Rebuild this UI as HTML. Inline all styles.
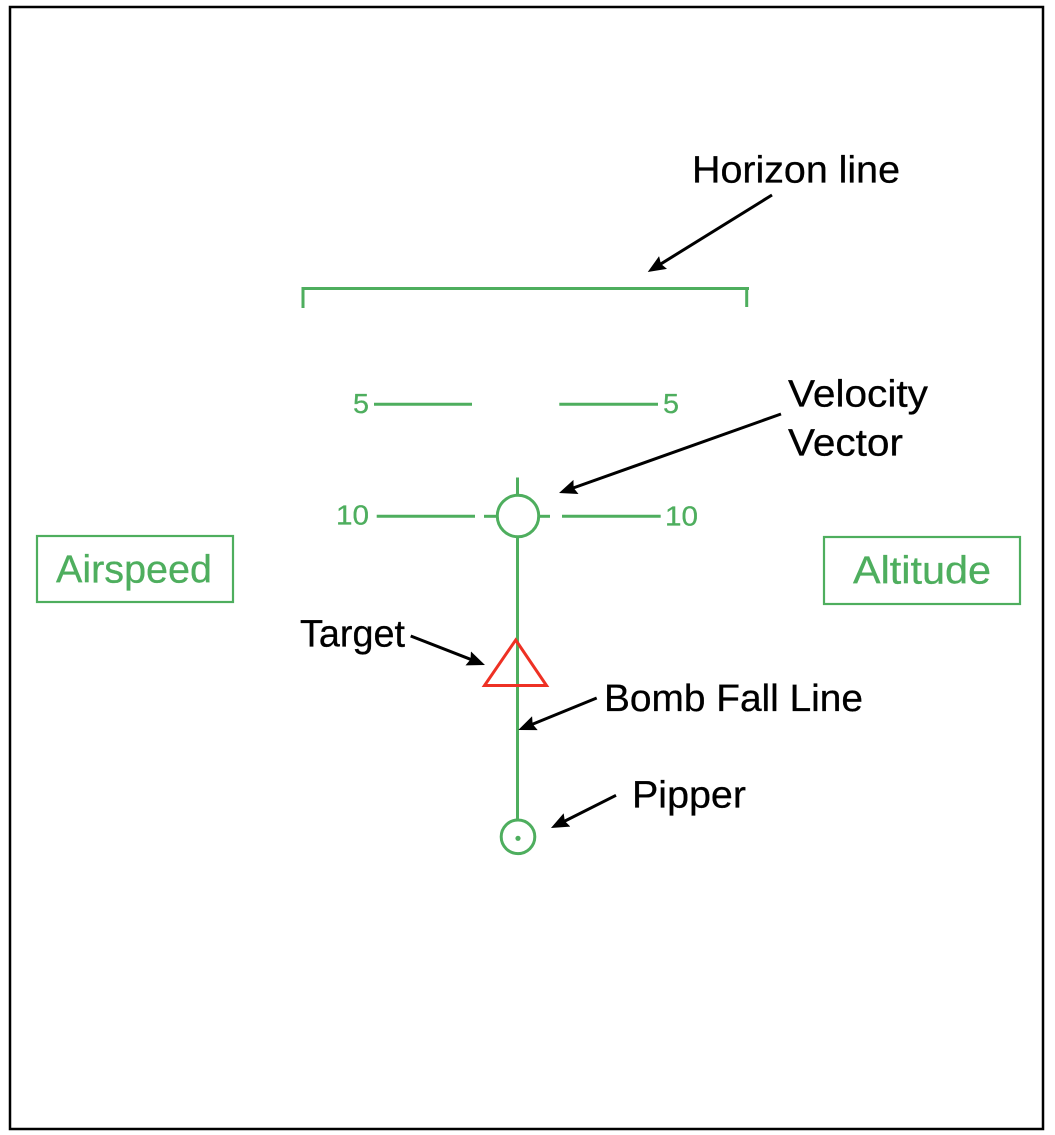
<!DOCTYPE html>
<html>
<head>
<meta charset="utf-8">
<style>
html,body{margin:0;padding:0;background:#fff;}
svg{display:block;}
text{font-family:"Liberation Sans",sans-serif;}
</style>
</head>
<body>
<svg width="1055" height="1135" viewBox="0 0 1055 1135" xmlns="http://www.w3.org/2000/svg">
<defs>
<marker id="a" markerUnits="userSpaceOnUse" markerWidth="19" markerHeight="16" refX="9" refY="7.500" orient="auto">
<path d="M0 0 L18 7.500 L0 15 L2.500 7.500 Z" fill="#000"/>
</marker>
</defs>
<rect width="1055" height="1135" fill="#fff"/>
<rect x="10" y="7" width="1033" height="1122" fill="#fff" stroke="#000" stroke-width="2.500"/>
<g fill="none" stroke="#4EAE5E" stroke-width="3">
<path d="M301.500 288.500 H749"/>
<path d="M303 288.500 V308"/>
<path d="M746.700 288.500 V307"/>
<path d="M374 404.300 H472"/>
<path d="M559.300 404.300 H658"/>
<path d="M376.700 516.300 H475"/>
<path d="M562 516.300 H660.700"/>
<path d="M484 516.300 H497"/>
<path d="M539 516.300 H550"/>
<path d="M517.500 477.500 V495"/>
<path d="M517.500 537 V820"/>
<circle cx="518" cy="516" r="20.700"/>
<circle cx="518" cy="836.800" r="16.800"/>
<rect x="37" y="536" width="196" height="66" stroke-width="2.200"/>
<rect x="824" y="537" width="196" height="67" stroke-width="2.200"/>
</g>
<circle cx="518" cy="838.300" r="2.600" fill="#4EAE5E"/>
<path d="M515.700 640 L546.500 685.500 H484.500 Z" fill="none" stroke="#EE3124" stroke-width="3"/>
<g fill="#4EAE5E" stroke="#4EAE5E" stroke-width="0.300" font-size="28">
<text x="353" y="413" textLength="16" lengthAdjust="spacingAndGlyphs">5</text>
<text x="663" y="413" textLength="16" lengthAdjust="spacingAndGlyphs">5</text>
<text x="336" y="524.500" textLength="33" lengthAdjust="spacingAndGlyphs">10</text>
<text x="665" y="525.500" textLength="33" lengthAdjust="spacingAndGlyphs">10</text>
</g>
<g fill="#4EAE5E" stroke="#4EAE5E" stroke-width="0.300" font-size="39">
<text x="56" y="582.500" textLength="156" lengthAdjust="spacingAndGlyphs">Airspeed</text>
<text x="853" y="583.500" textLength="138" lengthAdjust="spacingAndGlyphs">Altitude</text>
</g>
<g fill="#000" stroke="#000" stroke-width="0.300" font-size="38">
<text x="692" y="182.500" textLength="208" lengthAdjust="spacingAndGlyphs">Horizon line</text>
<text x="788" y="406.500" textLength="140" lengthAdjust="spacingAndGlyphs">Velocity</text>
<text x="788" y="455.500" textLength="115" lengthAdjust="spacingAndGlyphs">Vector</text>
<text x="300" y="646.500" textLength="105" lengthAdjust="spacingAndGlyphs">Target</text>
<text x="604" y="711" textLength="259" lengthAdjust="spacingAndGlyphs">Bomb Fall Line</text>
<text x="632" y="807.500" textLength="114" lengthAdjust="spacingAndGlyphs">Pipper</text>
</g>
<g stroke="#000" stroke-width="3" fill="none">
<path d="M772 195 L655.400 267.300" marker-end="url(#a)"/>
<path d="M781 414 L567.500 490" marker-end="url(#a)"/>
<path d="M410.700 636 L476.600 661.700" marker-end="url(#a)"/>
<path d="M596.700 698 L526.600 726.600" marker-end="url(#a)"/>
<path d="M616 795.300 L559 824" marker-end="url(#a)"/>
</g>
</svg>
</body>
</html>
